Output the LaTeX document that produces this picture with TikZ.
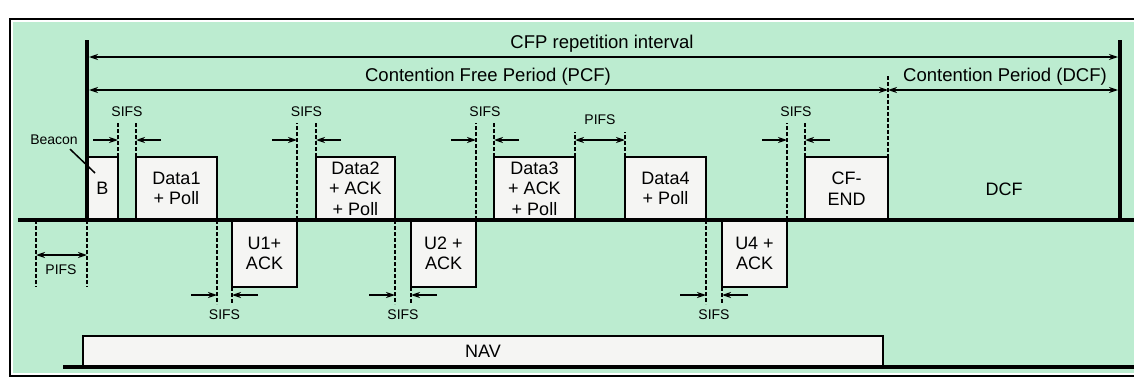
\documentclass[tikz,border=0pt]{standalone}
\usepackage{fontspec}
\setmainfont{Liberation Sans}
\usetikzlibrary{arrows.meta,calc}
\definecolor{cfpgreen}{RGB}{188,236,208}
\definecolor{slotwhite}{RGB}{245,245,243}

\begin{document}
\begin{tikzpicture}[x=1pt, y=-1pt,
    upbox/.style={rectangle, draw, fill=slotwhite, line width=1.8pt, inner sep=0pt, outer sep=0pt,
                  minimum height=63pt, anchor=south west, align=center,
                  font=\fontsize{18}{20.5}\selectfont},
    downbox/.style={upbox, minimum height=67pt, anchor=north west},
    lbl/.style={font=\fontsize{14}{16}\selectfont, inner sep=0pt},
    biglbl/.style={font=\fontsize{18.5}{20}\selectfont, inner sep=0pt, anchor=base},
    bar/.style={line width=4.5pt},
    guide/.style={line width=1.6pt, dash pattern=on 4pt off 2pt},
    arr/.style={-{Stealth[length=9pt,width=6pt]}, line width=1.5pt},
    dblarr/.style={{Stealth[length=9pt,width=6pt]}-{Stealth[length=9pt,width=6pt]}, line width=1.5pt}
]
\useasboundingbox (0,0) rectangle (1134,383);
% frame
\fill[cfpgreen] (13,22) rectangle (1134,373);
\draw[line width=2pt] (1134,19) -- (10,19) -- (10,376) -- (1134,376);

% frames above the medium
\node[upbox, minimum width=31pt] (b)     at (87,220)  {B};
\node[upbox, minimum width=81pt] (d1)    at (136,220) {Data1\\+ Poll};
\node[upbox, minimum width=79pt] (d2)    at (316,220) {Data2\\+ ACK\\+ Poll};
\node[upbox, minimum width=81pt] (d3)    at (494,220) {Data3\\+ ACK\\+ Poll};
\node[upbox, minimum width=81pt] (d4)    at (625,220) {Data4\\+ Poll};
\node[upbox, minimum width=83pt] (cfend) at (805,220) {CF-\\END};
% frames below the medium
\node[downbox, minimum width=65pt] (u1) at (232,220) {U1+\\ACK};
\node[downbox, minimum width=65pt] (u2) at (411,220) {U2 +\\ACK};
\node[downbox, minimum width=65pt] (u4) at (722,220) {U4 +\\ACK};
\node[upbox, minimum width=800pt, minimum height=31pt] (nav) at (83,367) {NAV};
\node[font=\fontsize{18}{20}\selectfont] (dcf) at (1004,189) {DCF};

\coordinate (cfpL) at (87,40);
\coordinate (cfpR) at (1120,40);
\coordinate (cpstart) at (888,76);
\coordinate (pifsL) at (36,220);

% medium and interval bounds
\draw[line width=4pt] (18,220) -- (1134,220);
\draw[line width=4pt] (63,367) -- (1134,367);
\draw[bar] (cfpL) -- (cfpL |- 0,220);
\draw[bar] (cfpR) -- (cfpR |- 0,220);
\draw[guide] (cpstart) -- (cfend.north east);

\draw[dblarr, shorten <=2pt, shorten >=2pt] (cfpL |- 0,57) -- (cfpR |- 0,57);
\draw[dblarr, shorten <=2pt] (cfpL |- 0,90) -- (cpstart |- 0,90);
\draw[dblarr, shorten >=2pt] (cpstart |- 0,90) -- (cfpR |- 0,90);
\node[biglbl] (cfplbl) at (602,48.5) {CFP repetition interval};
\node[biglbl] (pcflbl) at (488,81)   {Contention Free Period (PCF)};
\node[biglbl] (cplbl)  at (1005,81.5) {Contention Period (DCF)};

% beacon
\node[lbl] (beacon) at (54,140) {Beacon};
\draw[line width=1.5pt] ($(beacon.south)+(16,4)$) -- ($(b.north west)+(8,16)$);

% PIFS before the beacon
\draw[guide] (pifsL) -- (pifsL |- 0,287);
\draw[guide] (cfpL |- 0,220) -- (cfpL |- 0,287);
\draw[dblarr] (pifsL |- 0,255) -- (cfpL |- 0,255);
\node[lbl] (pifs0) at (61,270) {PIFS};

% PIFS between Data3 and Data4
\draw[guide] (d3.north east) -- (d3.north east |- 0,132);
\draw[guide] (d4.north west) -- (d4.north west |- 0,132);
\draw[dblarr] (d3.north east |- 0,140) -- (d4.north west |- 0,140);
\node[lbl] (pifs1) at (600,120) {PIFS};

% SIFS above the medium
\foreach \p/\q in {b/d1,u1/d2,u2/d3,u4/cfend}{
  \draw[guide] (\p.north east) -- (\p.north east |- 0,123);
  \draw[guide] (\q.north west) -- (\q.north west |- 0,123);
  \draw[arr] ($(\p.north east |- 0,140)+(-25,0)$) -- (\p.north east |- 0,140);
  \draw[arr] ($(\q.north west |- 0,140)+(25,0)$) -- (\q.north west |- 0,140);
  \node[lbl] (sifs-\p) at ($(\p.north east |- 0,112)!.5!(\q.north west |- 0,112)$) {SIFS};
}
% SIFS below the medium
\foreach \p/\q in {d1/u1,d2/u2,d4/u4}{
  \draw[guide] (\p.south east) -- (\p.south east |- 0,304);
  \draw[guide] (\q.south west) -- (\q.south west |- 0,304);
  \draw[arr] ($(\p.south east |- 0,295)+(-26,0)$) -- (\p.south east |- 0,295);
  \draw[arr] ($(\q.south west |- 0,295)+(26,0)$) -- (\q.south west |- 0,295);
  \node[lbl] (sifs-\q) at ($(\p.south east |- 0,315)!.5!(\q.south west |- 0,315)$) {SIFS};
}
\end{tikzpicture}
\end{document}
